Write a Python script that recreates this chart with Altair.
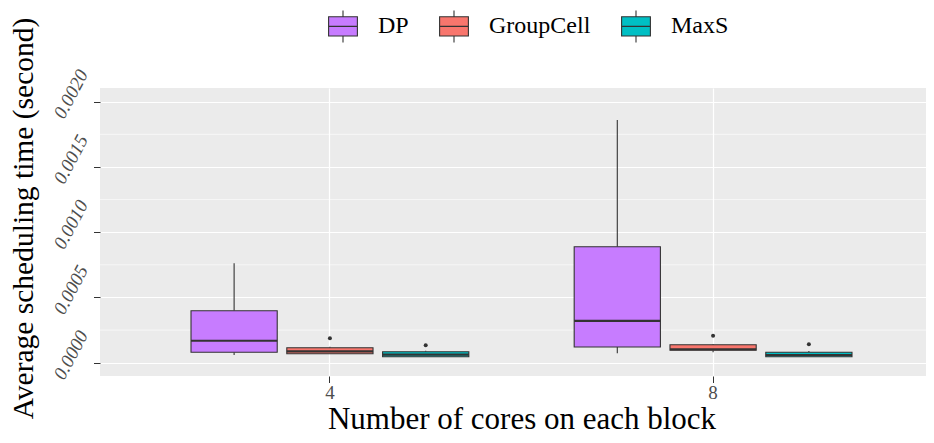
import altair as alt
import pandas as pd

# ---- data ----
cores = ["4", "4", "4", "8", "8", "8"]
methods = ["DP", "GroupCell", "MaxS", "DP", "GroupCell", "MaxS"]
whisker_lo = [0.000059, 0.000068, 0.000045, 0.000072, 0.000080, 0.000045]
q1 = [0.000080, 0.000069, 0.000046, 0.000120, 0.000095, 0.000046]
median = [0.000168, 0.000086, 0.000062, 0.000320, 0.000103, 0.000059]
q3 = [0.000398, 0.000115, 0.000084, 0.000889, 0.000138, 0.000080]
whisker_hi = [0.000762, 0.000123, 0.000092, 0.001860, 0.000143, 0.000090]

out_cores = ["4", "4", "8", "8"]
out_methods = ["GroupCell", "MaxS", "GroupCell", "MaxS"]
out_values = [0.000187, 0.000133, 0.000207, 0.000141]

method_order = ["DP", "GroupCell", "MaxS"]
method_colors = ["#C77CFF", "#F8766D", "#00BFC4"]
y_ticks = [0.0, 0.0005, 0.0010, 0.0015, 0.0020]
minor_grid = [0.00025, 0.00075, 0.00125, 0.00175]

box = pd.DataFrame({"cores": cores, "method": methods, "lo": whisker_lo,
                    "q1": q1, "med": median, "q3": q3, "hi": whisker_hi})
outl = pd.DataFrame({"cores": out_cores, "method": out_methods, "v": out_values})
grid = pd.DataFrame({"g": minor_grid})

FONT = "Liberation Serif"
W, H = 826, 288
Y_TITLE = "Average scheduling time (second)"
X_TITLE = "Number of cores on each block"

y_scale = alt.Scale(domain=[-0.000102, 0.002105], nice=False, zero=False)
x_scale = alt.Scale(domain=["4", "8"], range=[0, 843], paddingInner=0.25, paddingOuter=0.225)
off_scale = alt.Scale(domain=method_order, paddingInner=0.1, paddingOuter=0.05)

x_axis = alt.Axis(labelAngle=0, grid=True, gridColor="white", gridWidth=1.2,
                  bandPosition=0.5, domain=False, tickColor="#333333",
                  tickSize=6.5, labelFontSize=19, labelColor="#4D4D4D",
                  labelPadding=1, titleFontSize=31, titleFontWeight="normal",
                  titleColor="black", titleY=52, titleBaseline="alphabetic")
y_axis = alt.Axis(values=y_ticks, format=".4f", grid=True, gridColor="white",
                  gridWidth=1.2, domain=False, tickColor="#333333", tickSize=6.5,
                  labelFontSize=19, labelFontStyle="italic", labelColor="#4D4D4D",
                  labelAngle=298, labelAlign="center", labelBaseline="middle",
                  labelPadding=23, labelOffset=-8, titleFontSize=29.5,
                  titleFontWeight="normal", titleColor="black", titleAngle=270,
                  titleX=-77, titleY=130, titleAlign="center", titleBaseline="middle")


def yenc(field):
    return alt.Y(field, scale=y_scale, axis=y_axis, title=Y_TITLE)


x_enc = alt.X("cores:N", scale=x_scale, axis=x_axis, title=X_TITLE)
off_enc = alt.XOffset("method:N", scale=off_scale, sort=method_order)

minor = alt.Chart(grid).mark_rule(color="white", strokeWidth=0.6).encode(y=yenc("g:Q"))

whisk_low = alt.Chart(box).mark_rule(color="#333333", strokeWidth=1.1).encode(
    x=x_enc, xOffset=off_enc, y=yenc("lo:Q"), y2="q1:Q")
whisk_high = alt.Chart(box).mark_rule(color="#333333", strokeWidth=1.1).encode(
    x=x_enc, xOffset=off_enc, y=yenc("q3:Q"), y2="hi:Q")

legend_shape = "M-0.9,-0.6H0.9V0.6H-0.9Z M-0.9,0H0.9 M0,-0.6V-1 M0,0.6V1"
boxes = alt.Chart(box).mark_bar(stroke="#333333", strokeWidth=1.1).encode(
    x=x_enc, xOffset=off_enc,
    y=yenc("q1:Q"), y2="q3:Q",
    fill=alt.Fill("method:N", sort=method_order,
                  scale=alt.Scale(domain=method_order, range=method_colors),
                  legend=alt.Legend(title=None, orient="none", direction="horizontal",
                                    legendX=226, legendY=-79, symbolType=legend_shape,
                                    symbolSize=1024, symbolStrokeColor="#333333",
                                    symbolStrokeWidth=1.1, labelFontSize=24,
                                    labelColor="black", labelOffset=18, columnPadding=28,
                                    padding=0)))
medians = alt.Chart(box).mark_bar(stroke="#333333", strokeWidth=2.2, fillOpacity=0).encode(
    x=x_enc, xOffset=off_enc, y=yenc("med:Q"), y2="med:Q")
outliers = alt.Chart(outl).mark_point(filled=True, color="#333333", size=16, opacity=1).encode(
    x=x_enc, xOffset=off_enc, y=yenc("v:Q"))

chart = alt.layer(minor, whisk_low, whisk_high, boxes, medians, outliers).properties(
    width=W, height=H,
    autosize=alt.AutoSizeParams(type="none"),
    padding={"left": 92, "top": 80, "right": 0, "bottom": 59},
).configure(font=FONT).configure_view(fill="#EBEBEB", stroke=None)

chart.save("out.html", embed_options={"renderer": "svg", "actions": False})
